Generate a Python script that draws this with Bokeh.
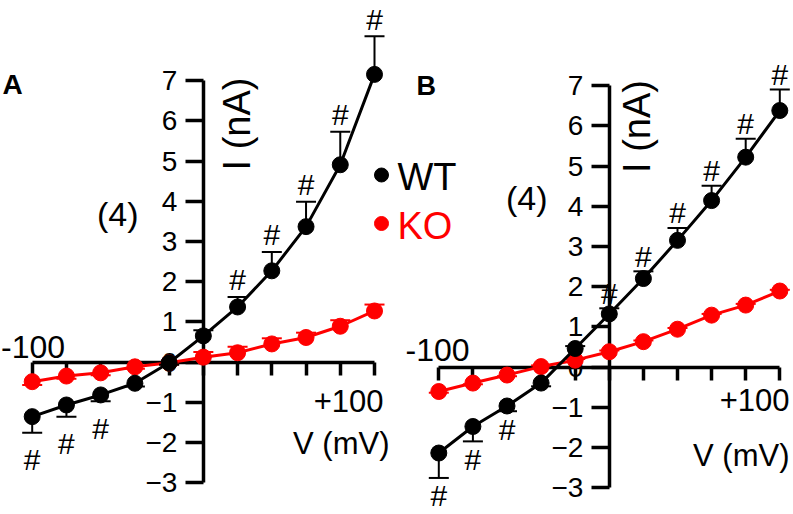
import math
from bokeh.plotting import figure
from bokeh.models import Range1d, LinearAxis, FixedTicker
from bokeh.core.properties import value
from bokeh.embed import file_html
from bokeh.resources import INLINE

# ---------------- data ----------------
voltage = [-100, -80, -60, -40, -20, 0, 20, 40, 60, 80, 100]

a_wt_mean = [-1.36, -1.07, -0.82, -0.53, -0.02, 0.65, 1.37, 2.27, 3.37, 4.91, 7.16]
a_wt_err = [0.40, 0.29, 0.16, 0.08, 0.05, 0.14, 0.25, 0.47, 0.62, 0.82, 0.95]
a_ko_mean = [-0.49, -0.35, -0.27, -0.12, -0.02, 0.12, 0.23, 0.45, 0.61, 0.89, 1.27]
a_ko_err = [0.08, 0.07, 0.06, 0.05, 0.04, 0.13, 0.15, 0.14, 0.12, 0.15, 0.16]
a_sig = [1, 1, 1, 0, 0, 0, 1, 1, 1, 1, 1]

b_wt_mean = [-2.14, -1.48, -0.97, -0.40, 0.46, 1.32, 2.20, 3.15, 4.14, 5.22, 6.38]
b_wt_err = [0.62, 0.37, 0.13, 0.08, 0.06, 0.14, 0.18, 0.31, 0.37, 0.46, 0.52]
b_ko_mean = [-0.61, -0.40, -0.20, 0.01, 0.17, 0.38, 0.63, 0.94, 1.29, 1.54, 1.89]
b_ko_err = [0.03, 0.03, 0.03, 0.03, 0.03, 0.03, 0.03, 0.03, 0.03, 0.03, 0.03]
b_sig = [1, 1, 1, 0, 0, 1, 1, 1, 1, 1, 1]

x_ticks = [-100, -80, -60, -40, -20, 0, 20, 40, 60, 80, 100]
y_ticks = [-3, -2, -1, 0, 1, 2, 3, 4, 5, 6, 7]
series_names = ["WT", "KO"]
series_colors = ["#000000", "#ff0000"]

FONT = "Liberation Sans"
W, H = 793, 514


def x_range_for(px_lo, px_hi, v_lo, v_hi):
    s = (v_hi - v_lo) / (px_hi - px_lo)
    start = v_lo - px_lo * s
    return Range1d(start=start, end=start + W * s)


def y_range_for(px_zero, px_per_unit):
    return Range1d(start=-(H - px_zero) / px_per_unit, end=px_zero / px_per_unit)


p = figure(width=W, height=H,
           x_range=x_range_for(31.7, 374.0, -100, 100),
           y_range=y_range_for(361.5, 40.17),
           output_backend="svg", toolbar_location=None,
           x_axis_type=None, y_axis_type=None,
           min_border=0, min_border_left=0, min_border_right=0,
           min_border_top=0, min_border_bottom=0,
           outline_line_color=None, title=None)
p.background_fill_color = "white"
p.border_fill_color = "white"
p.extra_x_ranges = {"xb": x_range_for(438.3, 779.3, -100, 100), "px": Range1d(0, W)}
p.extra_y_ranges = {"yb": y_range_for(366.5, 40.2), "py": Range1d(H, 0)}


def add_axes(xr, yr):
    xa = LinearAxis(x_range_name=xr, y_range_name=yr, fixed_location=0,
                    ticker=FixedTicker(ticks=x_ticks), bounds=(x_ticks[0], x_ticks[-1]))
    xa.axis_line_width = 3.5
    xa.major_tick_line_width = 3.5
    xa.major_tick_out = 13
    xa.major_tick_in = 0
    xa.minor_tick_out = 0
    xa.minor_tick_in = 0
    xa.major_label_text_color = None
    xa.level = "underlay"
    p.add_layout(xa, "below")

    ya = LinearAxis(x_range_name=xr, y_range_name=yr, fixed_location=0,
                    ticker=FixedTicker(ticks=y_ticks), bounds=(y_ticks[0], y_ticks[-1]))
    ya.axis_line_width = 3.5
    ya.major_tick_line_width = 3.5
    ya.major_tick_out = 18
    ya.major_tick_in = 0
    ya.minor_tick_out = 0
    ya.minor_tick_in = 0
    ya.major_label_standoff = 8
    ya.major_label_text_font = FONT
    ya.major_label_text_font_size = "28px"
    ya.major_label_text_color = "black"
    ya.level = "underlay"
    p.add_layout(ya, "left")


def draw_series(xr, yr, mean, err, color):
    tips = [m + e if m >= 0 else m - e for m, e in zip(mean, err)]
    kw = dict(x_range_name=xr, y_range_name=yr)
    p.segment(x0=voltage, y0=mean, x1=voltage, y1=tips, line_color=color, line_width=2, **kw)
    p.scatter(x=voltage, y=tips, marker="dash", size=20, line_color=color, line_width=2, **kw)
    p.line(x=voltage, y=mean, line_color=color, line_width=3, **kw)
    p.scatter(x=voltage, y=mean, marker="circle", size=16, fill_color=color,
              line_color=color, line_width=1, **kw)
    return tips


def draw_hashes(xr, yr, mean, tips, sig, off_up, off_down):
    kw = dict(x_range_name=xr, y_range_name=yr, text_font=value(FONT),
              text_font_size=value("30px"), text_color="black",
              text_align="center", text_baseline="middle")
    up_x = [v for v, m, s in zip(voltage, mean, sig) if s and m >= 0]
    up_y = [t for t, m, s in zip(tips, mean, sig) if s and m >= 0]
    dn_x = [v for v, m, s in zip(voltage, mean, sig) if s and m < 0]
    dn_y = [t for t, m, s in zip(tips, mean, sig) if s and m < 0]
    p.text(x=up_x, y=up_y, text=["#"] * len(up_x), y_offset=off_up, **kw)
    p.text(x=dn_x, y=dn_y, text=["#"] * len(dn_x), y_offset=off_down, **kw)


def px_text(x, y, s, size, color="black", align="left", baseline="middle",
            angle=0.0, style="normal"):
    p.text(x=[x], y=[y], text=[s], x_range_name="px", y_range_name="py",
           text_font=value(FONT), text_font_size=value(size), text_color=color,
           text_align=align, text_baseline=baseline, angle=angle,
           text_font_style=style)


# ---- panel A ----
add_axes("default", "default")
draw_series("default", "default", a_ko_mean, a_ko_err, series_colors[1])
a_tips = draw_series("default", "default", a_wt_mean, a_wt_err, series_colors[0])
draw_hashes("default", "default", a_wt_mean, a_tips, a_sig, -17, 27)

# ---- panel B ----
add_axes("xb", "yb")
draw_series("xb", "yb", b_ko_mean, b_ko_err, series_colors[1])
b_tips = draw_series("xb", "yb", b_wt_mean, b_wt_err, series_colors[0])
draw_hashes("xb", "yb", b_wt_mean, b_tips, b_sig, -15, 18)

# ---- annotation texts (page pixel coordinates, vertical centres) ----
px_text(2, 83.5, "A", "28px", style="bold")
px_text(416, 85, "B", "27px", style="bold")

px_text(138, 213, "(4)", "34px", align="right")
px_text(547, 197.5, "(4)", "34px", align="right")

px_text(236, 123.5, "I (nA)", "38px", align="center", angle=math.pi / 2)
px_text(636, 126, "I (nA)", "38px", align="center", angle=math.pi / 2)

px_text(32.5, 346, "-100", "32px", align="center")
px_text(437, 349, "-100", "32px", align="center")
px_text(383, 400, "+100", "31px", align="right")
px_text(789, 399.5, "+100", "31px", align="right")
px_text(389, 443, "V (mV)", "31px", align="right")
px_text(789, 454.5, "V (mV)", "31px", align="right")

# legend
p.scatter(x=[381, 381], y=[174.5, 223], marker="circle", size=14,
          fill_color=series_colors, line_color=series_colors,
          x_range_name="px", y_range_name="py")
px_text(397, 176, series_names[0], "38px", color=series_colors[0])
px_text(397, 225.5, series_names[1], "38px", color=series_colors[1])

open("out.html", "w").write(file_html(p, INLINE))
